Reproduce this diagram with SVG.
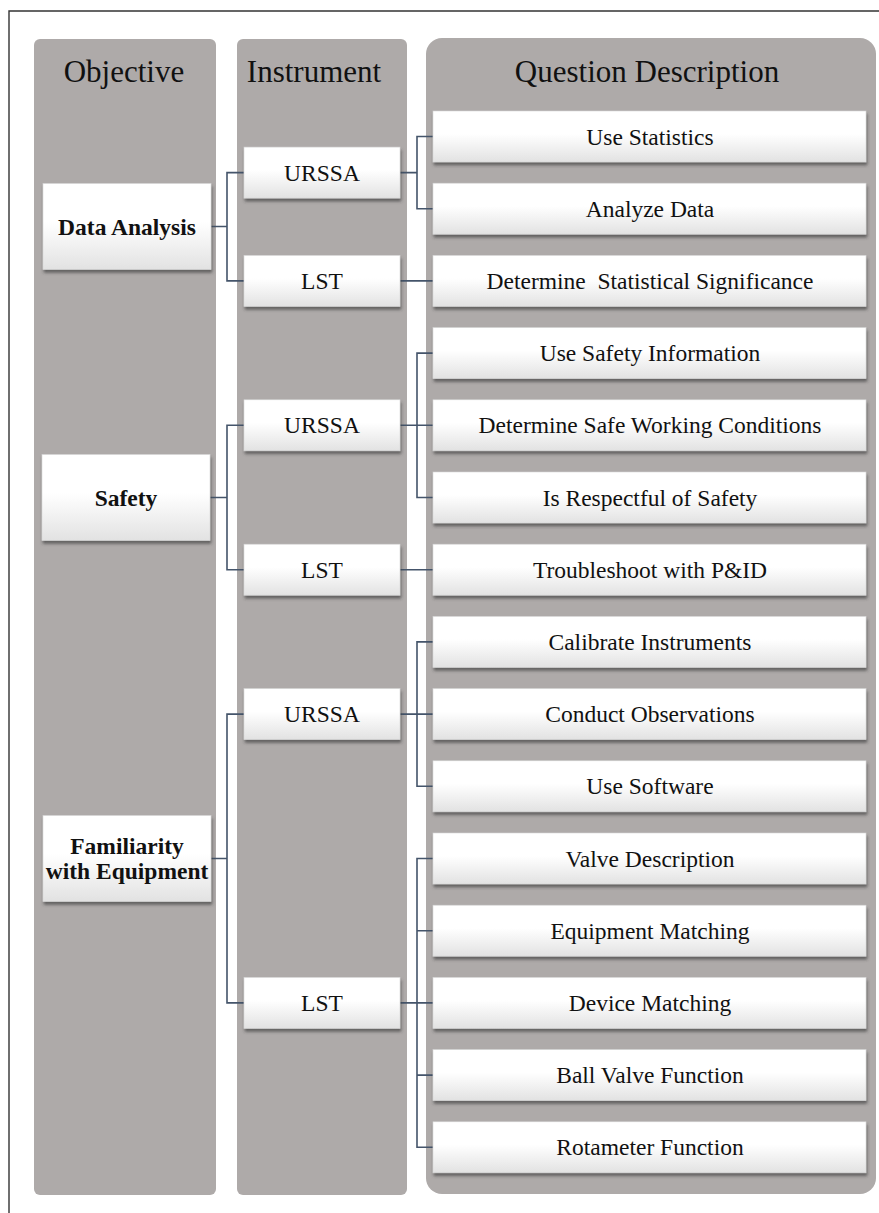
<svg xmlns="http://www.w3.org/2000/svg" width="879" height="1213" viewBox="0 0 879 1213">
<defs>
<linearGradient id="boxg" x1="0" y1="0" x2="0" y2="1">
<stop offset="0" stop-color="#ffffff"/>
<stop offset="0.45" stop-color="#ffffff"/>
<stop offset="1" stop-color="#e2e2e2"/>
</linearGradient>
<filter id="sh" x="-5%" y="-20%" width="110%" height="150%">
<feDropShadow dx="1" dy="3" stdDeviation="1.6" flood-color="#3a3a3a" flood-opacity="0.65"/>
</filter>
</defs>
<style>
.col{fill:#aeaaa9;}
.hdr{font-family:"Liberation Serif","Times New Roman",serif;font-size:31px;fill:#111;text-anchor:middle;}
.box{fill:url(#boxg);stroke:#d6d6d6;stroke-width:0.6;filter:url(#sh);}
.t{font-family:"Liberation Serif","Times New Roman",serif;font-size:23.5px;fill:#111;text-anchor:middle;white-space:pre;}
.b{font-weight:bold;}
.con{fill:none;stroke:#44546a;stroke-width:1.6;}
</style>
<rect x="0" y="0" width="879" height="1213" fill="#ffffff"/>
<path d="M9,1213 V11 H879" fill="none" stroke="#333333" stroke-width="1.4"/>
<g id="columns">
<rect class="col" x="34" y="39" width="182" height="1156" rx="6"/>
<rect class="col" x="237" y="39" width="170" height="1156" rx="6"/>
<rect class="col" x="426" y="38" width="450" height="1156" rx="16"/>
<text class="hdr" x="124" y="82">Objective</text>
<text class="hdr" x="314" y="82">Instrument</text>
<text class="hdr" x="647" y="82">Question Description</text>
</g>
<g id="connectors">
<path class="con" d="M211,226.5 H227 M244,172.6 H227 V280.9 H244"/>
<path class="con" d="M210,497.5 H227 M244,425.3 H227 V569.7 H244"/>
<path class="con" d="M211,858.5 H227 M244,714.1 H227 V1002.9 H244"/>
<path class="con" d="M400,172.6 H417 M433,136.5 H417 V208.7 H433"/>
<path class="con" d="M400,280.9 H433"/>
<path class="con" d="M400,425.3 H433 M433,353.1 H417 V497.5 H433"/>
<path class="con" d="M400,569.7 H433"/>
<path class="con" d="M400,714.1 H433 M433,641.9 H417 V786.3 H433"/>
<path class="con" d="M400,1002.9 H433 M433,858.5 H417 V1147.3 H433 M417,930.7 H433 M417,1075.1 H433"/>
</g>
<g id="obj-data-analysis"><rect class="box" x="43" y="183.5" width="168" height="86"/><text class="t b" x="127" y="234.5">Data Analysis</text></g>
<g id="obj-safety"><rect class="box" x="42" y="454.5" width="168" height="86"/><text class="t b" x="126" y="505.5">Safety</text></g>
<g id="obj-familiarity"><rect class="box" x="43" y="815.5" width="168" height="86"/><text class="t b" x="127" y="854">Familiarity</text><text class="t b" x="127" y="879">with Equipment</text></g>
<g id="ins-urssa-1"><rect class="box" x="244" y="147.1" width="156" height="51"/><text class="t" x="322" y="180.6">URSSA</text></g>
<g id="ins-lst-1"><rect class="box" x="244" y="255.4" width="156" height="51"/><text class="t" x="322" y="288.9">LST</text></g>
<g id="ins-urssa-2"><rect class="box" x="244" y="399.8" width="156" height="51"/><text class="t" x="322" y="433.3">URSSA</text></g>
<g id="ins-lst-2"><rect class="box" x="244" y="544.2" width="156" height="51"/><text class="t" x="322" y="577.7">LST</text></g>
<g id="ins-urssa-3"><rect class="box" x="244" y="688.6" width="156" height="51"/><text class="t" x="322" y="722.1">URSSA</text></g>
<g id="ins-lst-3"><rect class="box" x="244" y="977.4" width="156" height="51"/><text class="t" x="322" y="1010.9">LST</text></g>
<g id="q-0"><rect class="box" x="433" y="111" width="433" height="51"/><text class="t" x="650" y="144.5">Use Statistics</text></g>
<g id="q-1"><rect class="box" x="433" y="183.2" width="433" height="51"/><text class="t" x="650" y="216.7">Analyze Data</text></g>
<g id="q-2"><rect class="box" x="433" y="255.4" width="433" height="51"/><text class="t" x="650" y="288.9">Determine  Statistical Significance</text></g>
<g id="q-3"><rect class="box" x="433" y="327.6" width="433" height="51"/><text class="t" x="650" y="361.1">Use Safety Information</text></g>
<g id="q-4"><rect class="box" x="433" y="399.8" width="433" height="51"/><text class="t" x="650" y="433.3">Determine Safe Working Conditions</text></g>
<g id="q-5"><rect class="box" x="433" y="472" width="433" height="51"/><text class="t" x="650" y="505.5">Is Respectful of Safety</text></g>
<g id="q-6"><rect class="box" x="433" y="544.2" width="433" height="51"/><text class="t" x="650" y="577.7">Troubleshoot with P&amp;ID</text></g>
<g id="q-7"><rect class="box" x="433" y="616.4" width="433" height="51"/><text class="t" x="650" y="649.9">Calibrate Instruments</text></g>
<g id="q-8"><rect class="box" x="433" y="688.6" width="433" height="51"/><text class="t" x="650" y="722.1">Conduct Observations</text></g>
<g id="q-9"><rect class="box" x="433" y="760.8" width="433" height="51"/><text class="t" x="650" y="794.3">Use Software</text></g>
<g id="q-10"><rect class="box" x="433" y="833" width="433" height="51"/><text class="t" x="650" y="866.5">Valve Description</text></g>
<g id="q-11"><rect class="box" x="433" y="905.2" width="433" height="51"/><text class="t" x="650" y="938.7">Equipment Matching</text></g>
<g id="q-12"><rect class="box" x="433" y="977.4" width="433" height="51"/><text class="t" x="650" y="1010.9">Device Matching</text></g>
<g id="q-13"><rect class="box" x="433" y="1049.6" width="433" height="51"/><text class="t" x="650" y="1083.1">Ball Valve Function</text></g>
<g id="q-14"><rect class="box" x="433" y="1121.8" width="433" height="51"/><text class="t" x="650" y="1155.3">Rotameter Function</text></g>
</svg>
